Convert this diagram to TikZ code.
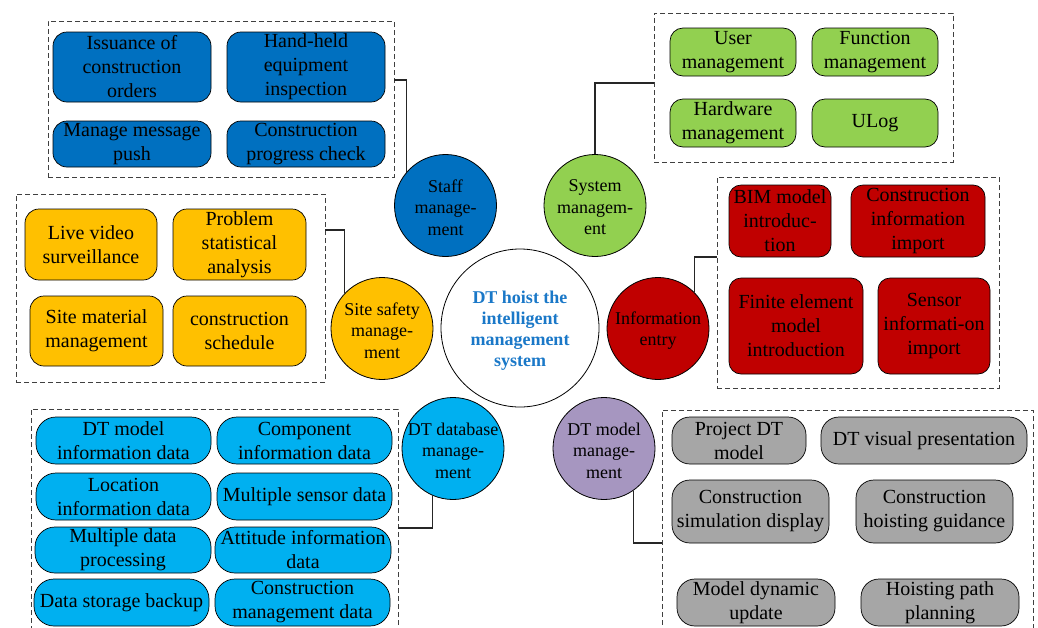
\documentclass[tikz,border=0pt]{standalone}
\usepackage{fontspec}
\setmainfont{Liberation Serif}
\usetikzlibrary{fit}
\definecolor{cstaff}{HTML}{0070C0}
\definecolor{csys}{HTML}{92D050}
\definecolor{csafe}{HTML}{FFC000}
\definecolor{cinfo}{HTML}{C00000}
\definecolor{cdb}{HTML}{00B0F0}
\definecolor{cmodel}{HTML}{A696C0}
\definecolor{cgray}{HTML}{A6A6A6}
\definecolor{cframe}{HTML}{404040}
\definecolor{ctitle}{HTML}{1A78C8}
\begin{document}
\begin{tikzpicture}[x=1pt,y=-1pt,
  item/.style={draw=black, line width=0.7pt, rounded corners=14pt, inner sep=0pt,
    align=center, font=\fontsize{20}{24}\selectfont},
  group/.style={draw=cframe, line width=0.9pt, dash pattern=on 5pt off 3pt, inner sep=0pt},
  hub/.style={circle, draw=black, line width=0.8pt, minimum size=102pt, inner sep=0pt},
  hubtext/.style={align=center, font=\fontsize{18}{21.5}\selectfont, inner sep=0pt, yshift=-2pt},
  link/.style={draw=black!85, line width=1.1pt}]

\clip (0,0) rectangle (1038,627);
\fill[white] (0,0) rectangle (1038,627);

% dashed group frames
\node[group, fit={(48,21) (394,177)}] (gstaff) {};
\node[group, fit={(654,13) (953,162)}] (gsys) {};
\node[group, fit={(16,194) (325,382)}] (gsafe) {};
\node[group, fit={(717,177) (999,388)}] (ginfo) {};
\node[group, fit={(31,409) (398,650)}] (gdb) {};
\node[group, fit={(662,410) (1033,650)}] (gmodel) {};

% module circles
\node[hub, fill=white, minimum size=158pt] (core) at (520,328) {};
\node[hub, fill=cstaff] (staff) at (445.5,205.5) {};
\node[hub, fill=csys] (system) at (595,205.5) {};
\node[hub, fill=csafe] (safe) at (382,328.5) {};
\node[hub, fill=cinfo] (info) at (658,328.5) {};
\node[hub, fill=cdb] (db) at (453,448.5) {};
\node[hub, fill=cmodel] (model) at (604,448.5) {};

\node[hubtext, font=\bfseries\fontsize{18}{21}\selectfont, text=ctitle, yshift=-1pt] (coreT) at (core) {DT hoist the\\intelligent\\management\\system};
\node[hubtext] (staffT) at (staff) {Staff\\manage-\\ment};
\node[hubtext] (systemT) at (system) {System\\managem-\\ent};
\node[hubtext] (safeT) at (safe) {Site safety\\manage-\\ment};
\node[hubtext] (infoT) at (info) {Information\\entry};
\node[hubtext] (dbT) at (db) {DT database\\manage-\\ment};
\node[hubtext] (modelT) at (model) {DT model\\manage-\\ment};

% elbow heights of the connectors
\coordinate (kstaff) at (0,80);
\coordinate (ksys) at (0,83);
\coordinate (ksafe) at (0,230);
\coordinate (kinfo) at (0,257);
\coordinate (kdb) at (0,528);
\coordinate (kmodel) at (0,543);

\draw[link] (gstaff.east |- kstaff) -| (staff.140);
\draw[link] (system.north) |- (gsys.west |- ksys);
\draw[link] (gsafe.east |- ksafe) -| (safe.137);
\draw[link] (ginfo.west |- kinfo) -| (info.45);
\draw[link] (gdb.east |- kdb) -| (db.247);
\draw[link] (model.-55) |- (gmodel.west |- kmodel);

% staff management
\begin{scope}[every node/.append style={item, fill=cstaff}]
\node[minimum width=158pt, minimum height=70pt] (s1) at (132,67) {Issuance of\\construction\\orders};
\node[minimum width=158pt, minimum height=70pt] (s2) at (306,67) {Hand-held\\equipment\\inspection};
\node[minimum width=158pt, minimum height=46pt] (s3) at (132,144) {Manage message\\push};
\node[minimum width=158pt, minimum height=46pt] (s4) at (306,144) {Construction\\progress check};
\end{scope}

% system management
\begin{scope}[every node/.append style={item, fill=csys, rounded corners=13pt, minimum width=126pt, minimum height=48pt}]
\node (y1) at (733,52) {User\\management};
\node (y2) at (875,52) {Function\\management};
\node (y3) at (733,123) {Hardware\\management};
\node (y4) at (875,123) {ULog};
\end{scope}

% site safety management
\begin{scope}[every node/.append style={item, fill=csafe, minimum width=133pt}]
\node[minimum width=132pt, minimum height=71pt] (f1) at (91,244.5) {Live video\\surveillance};
\node[minimum height=71pt] (f2) at (239.5,244.5) {Problem\\statistical\\analysis};
\node[minimum height=70pt] (f3) at (96.5,331) {Site material\\management};
\node[minimum height=70pt] (f4) at (239.5,331) {construction\\schedule};
\end{scope}

% information entry
\begin{scope}[every node/.append style={item, fill=cinfo, rounded corners=12pt}]
\node[minimum width=102pt, minimum height=72pt] (i1) at (780,221) {BIM model\\introduc-\\tion};
\node[minimum width=134pt, minimum height=72pt] (i2) at (918,221) {Construction\\information\\import};
\node[minimum width=134pt, minimum height=96pt] (i3) at (796,326) {Finite element\\model\\introduction};
\node[minimum width=112pt, minimum height=96pt] (i4) at (934,326) {Sensor\\informati-on\\import};
\end{scope}

% DT database management
\begin{scope}[every node/.append style={item, fill=cdb, rounded corners=20pt, minimum width=175pt, minimum height=47pt}]
\node (d1) at (123.5,440.5) {DT model\\information data};
\node (d2) at (304.5,440.5) {Component\\information data};
\node (d3) at (123.5,496.5) {Location\\information data};
\node (d4) at (304.5,496.5) {Multiple sensor data};
\node[minimum width=176pt, minimum height=46pt] (d5) at (123,550) {Multiple data\\processing};
\node[minimum width=176pt, minimum height=46pt] (d6) at (303,550) {Attitude information\\data};
\node (d7) at (121.5,602.5) {Data storage backup};
\node (d8) at (302.5,602.5) {Construction\\management data};
\end{scope}

% DT model management
\begin{scope}[every node/.append style={item, fill=cgray, rounded corners=18pt, minimum height=47pt}]
\node[minimum width=134pt] (m1) at (739,440.5) {Project DT\\model};
\node[minimum width=206pt] (m2) at (924,440.5) {DT visual presentation};
\node[minimum width=157pt, minimum height=63pt] (m3) at (750.5,511.5) {Construction\\simulation display};
\node[minimum width=157pt, minimum height=63pt] (m4) at (934.5,511.5) {Construction\\hoisting guidance};
\node[minimum width=158pt] (m5) at (756,602.5) {Model dynamic\\update};
\node[minimum width=158pt] (m6) at (940,602.5) {Hoisting path\\planning};
\end{scope}
\end{tikzpicture}
\end{document}
